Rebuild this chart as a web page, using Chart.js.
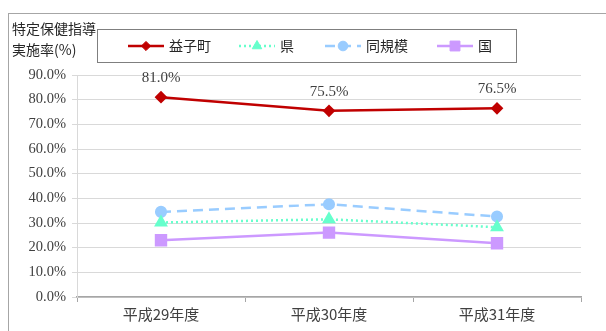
<!DOCTYPE html>
<html lang="ja">
<head>
    <meta charset="UTF-8">
    <title>特定保健指導実施率</title>
    <script src="https://cdn.jsdelivr.net/npm/chart.js"></script>
    <style>
        html, body { margin: 0; padding: 0; background: #fff; }
        #wrap { position: relative; width: 606px; height: 331px; }
    </style>
</head>
<body>
<div id="wrap">
    <canvas id="rateChart" width="606" height="331"></canvas>
</div>
<script>
    // 年度別 特定保健指導実施率(%)
    const years = ['平成29年度', '平成30年度', '平成31年度'];
    const mashiko = [81.0, 75.5, 76.5];
    const ken = [30.2, 31.5, 28.3];
    const doukibo = [34.5, 37.6, 32.6];
    const kuni = [23.0, 26.1, 21.8];
    const yTicks = [0, 10, 20, 30, 40, 50, 60, 70, 80, 90];

    const serif = '"Liberation Serif", "Noto Sans CJK JP", serif';
    const gothic = '"Noto Sans CJK JP", sans-serif';

    // legend slot x positions (line start) for each series
    const legendSlots = [128, 239, 325, 437];

    const framePlugin = {
        id: 'frame',
        beforeDraw(chart) {
            const ctx = chart.ctx;
            ctx.save();
            ctx.fillStyle = '#fff';
            ctx.fillRect(0, 0, chart.width, chart.height);
            // outer frame (runs off the right and bottom edges)
            ctx.strokeStyle = '#a6a6a6';
            ctx.lineWidth = 1;
            ctx.strokeRect(8.5, 13.5, 640, 400);
            // axis title
            ctx.fillStyle = '#262626';
            ctx.font = '14px ' + gothic;
            ctx.textBaseline = 'middle';
            ctx.fillText('特定保健指導', 12, 29);
            ctx.fillText('実施率(%)', 12, 50);
            ctx.restore();
        },
        afterDraw(chart) {
            const ctx = chart.ctx;
            ctx.save();
            // legend box
            ctx.strokeStyle = '#7f7f7f';
            ctx.lineWidth = 1;
            ctx.strokeRect(97.5, 29.5, 419, 33);
            const cy = 46;
            chart.data.datasets.forEach((ds, i) => {
                const x0 = legendSlots[i];
                ctx.save();
                ctx.strokeStyle = ds.borderColor;
                ctx.lineWidth = ds.borderWidth;
                ctx.setLineDash(ds.borderDash || []);
                ctx.beginPath();
                ctx.moveTo(x0, cy);
                ctx.lineTo(x0 + 36, cy);
                ctx.stroke();
                ctx.restore();
                ctx.fillStyle = ds.pointBackgroundColor;
                ctx.strokeStyle = ds.pointBorderColor;
                ctx.lineWidth = 1;
                Chart.helpers.drawPoint(ctx, {
                    pointStyle: ds.pointStyle,
                    radius: ds.pointRadius,
                    borderWidth: 1,
                    rotation: 0
                }, x0 + 18, cy);
                ctx.fillStyle = '#262626';
                ctx.font = '14px ' + gothic;
                ctx.textBaseline = 'middle';
                ctx.fillText(ds.label, x0 + 41, cy);
            });
            ctx.restore();
        },
        afterDatasetsDraw(chart) {
            // value labels for 益子町
            const ctx = chart.ctx;
            const meta = chart.getDatasetMeta(0);
            ctx.save();
            ctx.fillStyle = '#404040';
            ctx.font = '15px ' + serif;
            ctx.textAlign = 'center';
            ctx.textBaseline = 'middle';
            meta.data.forEach((pt, i) => {
                ctx.fillText(mashiko[i].toFixed(1) + '%', pt.x, pt.y - 19);
            });
            ctx.restore();
        }
    };

    function series(label, data, color, style, radius, dash) {
        return {
            label: label,
            data: data,
            borderColor: color,
            backgroundColor: color,
            pointBackgroundColor: color,
            pointBorderColor: color,
            pointStyle: style,
            pointRadius: radius,
            pointHoverRadius: radius,
            borderWidth: 2.5,
            borderDash: dash,
            tension: 0,
            fill: false
        };
    }

    new Chart(document.getElementById('rateChart').getContext('2d'), {
        type: 'line',
        data: {
            labels: years,
            datasets: [
                series('益子町', mashiko, '#c00000', 'rectRot', 4.6, []),
                series('県', ken, '#66ffcc', 'triangle', 5.5, [2, 3]),
                series('同規模', doukibo, '#99ccff', 'circle', 4.8, [10, 6]),
                series('国', kuni, '#cc99ff', 'rect', 7, [])
            ]
        },
        options: {
            responsive: false,
            animation: false,
            events: [],
            layout: { padding: { top: 75, right: 25, bottom: 0, left: 0 } },
            plugins: {
                legend: { display: false },
                tooltip: { enabled: false }
            },
            scales: {
                x: {
                    offset: true,
                    afterFit(scale) { scale.height = 34; },
                    grid: {
                        offset: true,
                        drawOnChartArea: false,
                        tickLength: 5,
                        color: '#a6a6a6'
                    },
                    border: { color: '#a6a6a6', width: 1.5 },
                    ticks: {
                        padding: 3,
                        color: '#404040',
                        font: { family: gothic, size: 15 }
                    }
                },
                y: {
                    min: 0,
                    max: 90,
                    afterFit(scale) { scale.width = 77; },
                    afterBuildTicks(scale) {
                        scale.ticks = yTicks.map(v => ({ value: v }));
                    },
                    grid: {
                        color: '#d9d9d9',
                        tickLength: 5
                    },
                    border: { color: '#d9d9d9' },
                    ticks: {
                        padding: 6,
                        color: '#404040',
                        font: { family: serif, size: 14.5 },
                        callback: v => v.toFixed(1) + '%'
                    }
                }
            }
        },
        plugins: [framePlugin]
    });
</script>
</body>
</html>
